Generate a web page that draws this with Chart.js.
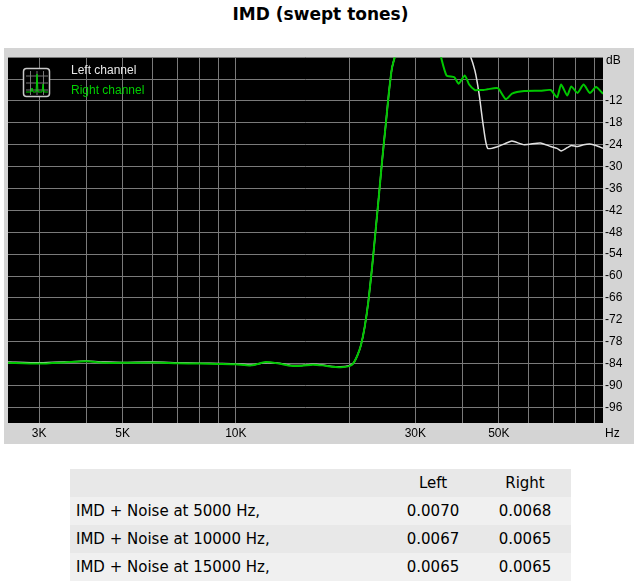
<!DOCTYPE html>
<html>
<head>
<meta charset="utf-8">
<script src="https://cdn.jsdelivr.net/npm/chart.js@4"></script>
<style>
  body { margin: 0; background: #fff; font-family: "DejaVu Sans", Verdana, sans-serif; }
  h1 { position: absolute; left: 0; top: 0; width: 641px; margin: 0; text-align: center;
       font-size: 17px; line-height: 28px; font-weight: bold; }
  #box { position: absolute; left: 4px; top: 48px; width: 630px; height: 396px; background: #d4d4d4; }
  table { position: absolute; left: 70px; top: 469px; width: 501px; border-collapse: collapse; font-size: 15px; }
  td { height: 28px; padding: 0 6px; }
  tr:nth-child(odd) { background: #e8e8e8; }
  tr:nth-child(even) { background: #f0f0f0; }
  td.n { text-align: center; width: 80px; }
</style>
</head>
<body>
<h1>IMD (swept tones)</h1>
<div id="box"><canvas id="c" width="630" height="396"></canvas></div>
<table>
  <tr><td></td><td class="n">Left</td><td class="n">Right</td></tr>
  <tr><td>IMD + Noise at 5000 Hz,</td><td class="n">0.0070</td><td class="n">0.0068</td></tr>
  <tr><td>IMD + Noise at 10000 Hz,</td><td class="n">0.0067</td><td class="n">0.0065</td></tr>
  <tr><td>IMD + Noise at 15000 Hz,</td><td class="n">0.0065</td><td class="n">0.0065</td></tr>
</table>
<script>
'use strict';

// ── Data ────────────────────────────────────────────────────────────────────
const FREQ = [2480, 3000, 3500, 4000, 4500, 5000, 6000, 7000, 8000, 9000, 10000, 11000, 12000, 13000,
  14000, 15000, 16000, 17000, 18000, 19000, 20000, 20500, 21000, 21500, 22000, 22500, 23000, 23500,
  24000, 24500, 25000, 25500, 26000, 26600, 30000, 34900, 36300, 38100, 39100, 40600, 41700, 43200,
  44300, 45500, 46700, 49700, 52200, 54200, 58400, 64500, 68700, 71400, 73200, 76000, 77900, 80900,
  84000, 87300, 90600, 94600];

const RIGHT = [-83.8, -84, -83.7, -83.4, -83.8, -83.8, -83.7, -83.9, -84, -84.1, -84.2, -84.5, -83.6,
  -84, -84.6, -84.6, -84.3, -84.5, -84.9, -85, -84.7, -84, -82, -79, -74, -67, -58, -48,
  -38, -28, -19, -10, -3, 1, null, 1, -5, -5.5, -7.3, -5, -7.5, -9,
  -9, -9, -8.8, -8.5, -11.5, -10, -9.3, -9.2, -9, -11, -7.5, -10.5, -8, -9.8,
  -7.5, -9.8, -8.2, -10];

const LEFT = [-83.6, -83.8, -83.6, -83.3, -83.6, -83.7, -83.6, -83.8, -83.9, -84, -84.1, -84.4, -83.7,
  -83.9, -84.5, -84.5, -84.2, -84.4, -84.8, -84.9, -84.6, -84, -82, -79, -74, -67, -58, -48,
  -38, -28, -19, -10, -3, 1, null, 2, 2, 2, 2, 2, 1, -3.7,
  -10, -19, -25, -24.5, -23.6, -23, -24, -23.5, -24.5, -25, -25.7, -24.8, -24.2, -24.5,
  -24, -23.8, -24.2, -25];

const X_TICKS = [3000, 4000, 5000, 6000, 7000, 8000, 9000, 10000, 20000, 30000, 40000, 50000,
  60000, 70000, 80000, 90000];
const X_LABELS = { 3000: '3K', 5000: '5K', 10000: '10K', 30000: '30K', 50000: '50K' };
const Y_TICKS = [0, -6, -12, -18, -24, -30, -36, -42, -48, -54, -60, -66, -72, -78, -84, -90, -96];

// ── Chart ───────────────────────────────────────────────────────────────────
const FONT = { family: '"Liberation Sans", Arial, sans-serif', size: 12 };

const overlay = {
  id: 'overlay',
  afterDraw(chart) {
    const ctx = chart.ctx;
    const a = chart.chartArea;
    ctx.save();
    ctx.font = '12px "Liberation Sans", Arial, sans-serif';
    ctx.textBaseline = 'middle';
    ctx.fillStyle = '#000';
    ctx.fillText('dB', a.right + 3, 13);
    ctx.fillText('Hz', a.right + 2, chart.scales.x.bottom - 10);
    // legend icon
    ctx.strokeStyle = '#c8c8c8';
    ctx.lineWidth = 1.5;
    ctx.fillStyle = '#000';
    ctx.beginPath();
    ctx.roundRect(19.5, 20.5, 26, 28, 3);
    ctx.fill(); ctx.stroke();
    ctx.strokeStyle = '#777'; ctx.lineWidth = 1;
    for (let i = 1; i < 4; i++) {
      ctx.beginPath(); ctx.moveTo(22, 21 + i * 7); ctx.lineTo(44, 21 + i * 7); ctx.stroke();
      ctx.beginPath(); ctx.moveTo(20 + i * 6.5, 23); ctx.lineTo(20 + i * 6.5, 47); ctx.stroke();
    }
    ctx.strokeStyle = '#00d000'; ctx.lineWidth = 1;
    ctx.beginPath();
    ctx.moveTo(22, 44); ctx.lineTo(27, 44); ctx.lineTo(28, 40); ctx.lineTo(29, 44);
    ctx.lineTo(32, 44); ctx.lineTo(33, 26); ctx.lineTo(34, 44); ctx.lineTo(38, 44);
    ctx.lineTo(39, 36); ctx.lineTo(40, 44); ctx.lineTo(44, 44);
    ctx.stroke();
    ctx.fillStyle = '#e8e8e8';
    ctx.fillText('Left channel', 67, 23);
    ctx.fillStyle = '#00d000';
    ctx.fillText('Right channel', 67, 43);
    ctx.restore();
  }
};

const bg = {
  id: 'bg',
  beforeDraw(chart) {
    const a = chart.chartArea;
    chart.ctx.save();
    chart.ctx.fillStyle = '#000';
    chart.ctx.fillRect(a.left, a.top, a.right - a.left, a.bottom - a.top);
    chart.ctx.restore();
  }
};

new Chart(document.getElementById('c'), {
  type: 'line',
  data: {
    labels: FREQ,
    datasets: [
      { data: RIGHT, borderColor: '#00c800', borderWidth: 2, pointRadius: 0, tension: 0.2, order: 0 },
      { data: LEFT, borderColor: '#e0e0e0', borderWidth: 1.5, pointRadius: 0, tension: 0.2, order: 1 },
    ],
  },
  options: {
    responsive: false,
    animation: false,
    spanGaps: false,
    layout: { padding: { left: 4, top: 4, right: 0, bottom: 0 } },
    plugins: { legend: { display: false }, tooltip: { enabled: false } },
    scales: {
      x: {
        type: 'logarithmic', min: 2480, max: 94600,
        afterBuildTicks: ax => { ax.ticks = X_TICKS.map(v => ({ value: v })); },
        afterFit: ax => { ax.height = 21; },
        ticks: { color: '#000', font: FONT, padding: 3, maxRotation: 0, autoSkip: false,
                 callback: v => X_LABELS[v] || '' },
        grid: { color: '#7a7a7a', lineWidth: 1, drawTicks: false },
        border: { display: false },
      },
      y: {
        position: 'right', min: -100.3, max: 0,
        afterBuildTicks: ax => { ax.ticks = Y_TICKS.map(v => ({ value: v })); },
        afterFit: ax => { ax.width = 31; },
        ticks: { color: '#000', font: FONT, padding: 2,
                 callback: v => (v === 0 || v === -6) ? '' : String(v) },
        grid: { color: '#7a7a7a', lineWidth: 1, drawTicks: false },
        border: { display: false },
      },
    },
  },
  plugins: [bg, overlay],
});
</script>
</body>
</html>
